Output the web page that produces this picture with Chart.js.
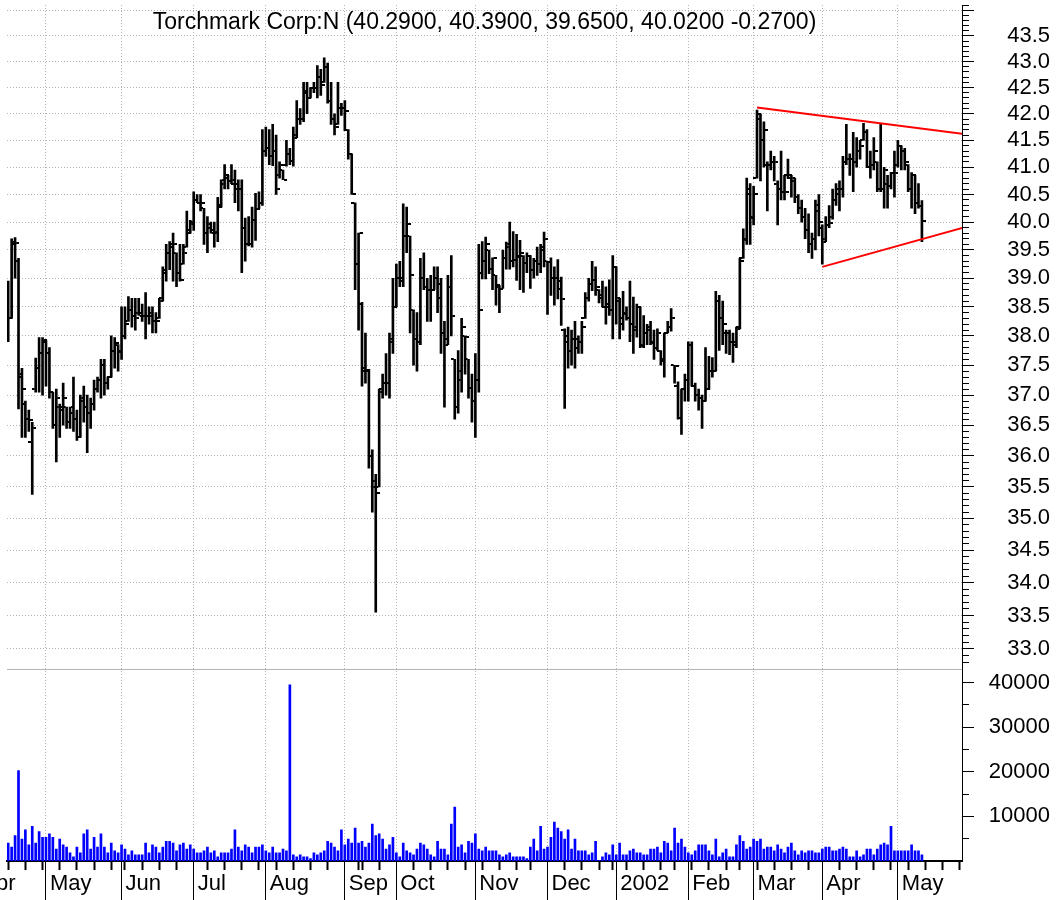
<!DOCTYPE html>
<html>
<head>
<meta charset="utf-8">
<script src="https://cdn.jsdelivr.net/npm/chart.js@4.4.1/dist/chart.umd.min.js"></script>
<style>
  html, body { margin: 0; padding: 0; background: #fff; }
  #wrap { width: 1061px; height: 900px; overflow: hidden; }
</style>
</head>
<body>
<div id="wrap"><canvas id="chart" width="1061" height="900"></canvas></div>
<script>
// Torchmark Corp (TMK) daily bars, 16 Apr 2001 - 10 May 2002
const firstBar = '2001-04-16';
const calendarStart = '2001-04-02';
const calendarEnd = '2002-06-28';
const holidays = ['2001-04-13','2001-05-28','2001-07-04','2001-09-03','2001-09-11','2001-09-12',
  '2001-09-13','2001-09-14','2001-11-22','2001-12-25','2002-01-01','2002-01-21','2002-02-18',
  '2002-03-29','2002-05-27'];
const monthNames = ['Jan','Feb','Mar','Apr','May','Jun','Jul','Aug','Sep','Oct','Nov','Dec'];

const opens = [
  38.70,38.30,39.60,39.30,37.30,36.85,36.60,36.22,37.10,37.45,
  37.70,37.90,37.70,37.05,36.50,36.80,36.75,36.80,36.55,36.70,
  36.60,36.30,36.90,36.80,36.70,36.85,37.10,37.25,37.50,37.20,
  37.30,37.75,37.85,37.75,38.00,38.25,38.45,38.35,38.40,38.40,
  38.35,38.35,38.40,38.25,38.30,38.65,39.10,39.45,39.55,39.45,
  39.10,39.25,39.55,39.85,40.00,40.40,40.35,40.25,39.80,39.90,
  39.85,39.80,40.30,40.70,40.80,40.75,40.70,40.60,40.60,39.90,
  39.60,39.60,40.03,40.24,40.35,41.30,41.35,41.20,41.30,40.85,
  40.95,41.05,41.25,41.12,41.60,41.90,41.90,42.40,42.30,42.50,
  42.50,42.70,42.60,42.90,42.25,41.90,41.80,42.10,42.10,41.70,
  41.25,40.35,39.25,38.55,37.45,37.40,36.00,35.60,35.50,37.10,
  37.20,37.20,37.90,38.50,39.00,38.95,39.75,39.75,38.45,37.95,
  37.90,39.00,38.85,38.80,38.80,39.00,38.65,38.05,37.95,38.85,
  37.60,36.80,37.25,38.00,37.60,37.12,36.90,37.25,39.10,39.30,
  39.50,39.16,39.05,38.85,38.82,39.36,39.55,39.30,39.33,39.40,
  39.40,39.27,39.40,39.15,39.30,39.25,39.55,39.30,39.28,39.00,
  39.00,38.95,38.10,37.90,37.75,37.95,37.80,37.90,38.30,38.65,
  38.90,38.97,38.80,38.65,38.50,38.50,38.45,39.20,38.60,38.30,
  38.40,38.30,38.20,38.10,38.50,37.85,38.05,38.15,37.90,37.80,
  37.75,37.60,38.05,38.15,37.50,37.15,36.62,37.10,37.25,37.85,
  37.15,37.00,36.95,36.90,37.10,37.40,37.40,38.60,38.30,38.05,
  38.05,37.90,37.90,38.15,39.35,39.70,40.50,40.10,40.80,41.90,
  41.50,41.05,41.05,41.10,40.70,40.60,40.55,40.85,40.80,40.75,
  40.45,40.25,40.10,39.85,39.60,39.70,40.20,39.90,39.70,39.95,
  40.10,40.40,40.50,40.60,41.10,41.15,41.15,41.10,41.30,41.50,
  41.65,41.00,41.05,41.10,40.60,40.60,40.70,40.65,40.90,41.05,
  41.40,41.30,41.05,40.60,40.85,40.35,40.29
];
const highs = [
  38.95,39.70,39.72,39.35,37.45,36.90,36.75,36.55,37.62,37.97,
  37.97,37.92,37.80,37.05,37.10,36.85,37.20,36.80,36.80,37.30,
  36.75,37.00,37.15,37.00,36.95,37.25,37.30,37.60,37.60,37.30,
  38.00,37.97,37.85,38.50,38.50,38.68,38.65,38.65,38.65,38.55,
  38.75,38.50,38.50,38.40,38.65,39.20,39.60,39.65,39.80,39.45,
  39.60,39.60,40.20,40.03,40.55,40.50,40.50,40.25,40.10,40.00,
  40.00,40.45,40.77,41.05,40.85,41.05,40.95,40.77,40.77,40.07,
  40.10,40.27,40.52,40.55,41.70,41.75,41.70,41.80,41.60,41.10,
  40.95,41.50,41.35,41.75,42.25,42.10,42.60,42.60,42.50,42.60,
  42.92,42.85,43.07,42.97,42.60,42.00,42.60,42.20,42.25,41.70,
  41.25,40.35,39.80,38.58,38.05,37.43,36.10,35.70,37.10,37.35,
  37.70,38.05,39.00,39.25,39.30,40.33,40.27,39.75,38.45,38.40,
  39.35,39.45,39.00,39.05,39.20,39.20,39.00,38.25,39.05,39.40,
  37.60,37.75,38.30,38.00,37.60,37.35,37.70,39.60,39.65,39.73,
  39.50,39.36,39.05,38.87,39.50,39.64,40.00,39.83,39.78,39.67,
  39.40,39.45,39.40,39.35,39.55,39.60,39.82,39.30,39.36,39.20,
  39.33,39.02,38.12,38.15,38.10,38.25,38.00,38.25,38.75,39.00,
  39.30,39.20,38.80,38.95,38.85,38.97,39.40,39.20,38.65,38.77,
  38.50,38.95,38.67,38.55,38.50,38.35,38.20,38.25,38.10,38.12,
  37.75,38.05,38.25,38.47,37.50,37.22,37.10,37.35,37.90,37.90,
  37.20,37.10,37.00,37.80,37.65,37.63,38.77,38.70,38.60,38.10,
  38.10,38.05,38.15,39.35,39.88,40.80,40.70,40.65,42.07,42.00,
  41.85,41.10,41.30,41.20,40.75,41.30,40.85,41.15,40.85,40.80,
  40.50,40.40,40.25,40.15,39.80,40.40,40.50,39.95,40.10,40.30,
  40.60,40.70,40.75,41.20,41.80,41.25,41.65,41.55,41.50,41.82,
  41.70,41.30,41.55,41.10,41.82,41.00,40.85,40.90,41.30,41.50,
  41.40,41.35,41.05,40.90,40.85,40.70,40.39
];
const lows = [
  37.90,38.30,39.00,36.77,36.30,36.30,36.40,35.38,37.05,37.05,
  37.00,37.15,36.95,36.45,35.90,36.30,36.50,36.45,36.45,36.40,
  36.25,36.30,36.55,36.05,36.45,36.75,37.05,36.95,37.00,37.10,
  37.30,37.45,37.40,37.60,37.95,38.25,38.15,38.10,38.35,38.25,
  37.95,38.20,38.05,38.05,38.30,38.60,38.95,39.15,38.95,38.85,
  38.95,39.25,39.55,39.80,39.85,40.35,40.20,39.60,39.45,39.80,
  39.55,39.65,40.27,40.60,40.60,40.70,40.35,40.20,39.10,39.30,
  39.57,39.55,39.67,40.24,40.30,41.20,41.05,41.03,40.50,40.80,
  40.77,41.02,41.05,41.02,41.55,41.80,41.85,42.00,42.30,42.40,
  42.30,42.35,42.60,42.20,41.80,41.60,41.80,41.97,41.68,41.15,
  40.50,38.80,38.10,37.15,37.20,35.80,35.10,33.55,35.50,36.95,
  37.00,36.95,37.70,38.50,38.85,38.85,39.45,38.05,37.50,37.40,
  37.85,38.80,38.25,38.25,38.80,38.40,37.70,36.80,37.85,38.00,
  36.60,36.70,37.05,37.35,36.95,36.55,36.30,37.05,38.99,38.99,
  39.08,38.80,38.53,38.40,38.82,39.16,39.16,39.20,38.96,38.80,
  38.75,39.10,38.82,39.00,39.05,39.10,39.20,38.37,38.70,38.53,
  38.64,38.18,36.78,37.45,37.50,37.45,37.70,37.70,38.30,38.60,
  38.78,38.70,38.57,38.50,38.20,38.35,37.95,38.20,37.95,38.10,
  38.27,37.90,37.70,37.98,37.80,37.80,37.85,37.85,37.60,37.75,
  37.50,37.30,38.05,38.08,37.20,36.60,36.35,36.90,36.90,37.15,
  36.90,36.75,36.45,36.90,37.10,37.30,37.40,37.75,37.85,37.70,
  37.68,37.55,37.80,38.12,39.35,39.60,39.60,39.95,40.80,40.75,
  41.00,40.20,40.95,40.75,39.95,40.40,40.40,40.80,40.45,40.35,
  40.15,40.00,39.70,39.45,39.35,39.50,39.75,39.25,39.65,39.90,
  40.05,40.30,40.20,40.45,41.05,40.85,40.55,41.00,41.15,41.50,
  41.00,40.80,40.95,40.55,40.55,40.25,40.25,40.60,40.45,41.00,
  40.95,40.95,40.55,40.25,40.15,40.25,39.65
];
const closes = [
  38.30,39.65,39.62,37.35,37.10,36.60,36.58,36.45,37.45,37.70,
  37.93,37.70,37.05,36.50,36.95,36.80,36.95,36.55,36.80,36.60,
  36.30,36.95,36.80,36.70,36.85,37.10,37.25,37.50,37.20,37.30,
  37.75,37.87,37.73,38.00,38.20,38.45,38.35,38.30,38.35,38.35,
  38.35,38.35,38.25,38.25,38.60,39.15,39.45,39.60,39.60,39.10,
  38.97,39.45,39.80,39.97,40.40,40.35,40.35,39.80,39.97,39.80,
  39.82,40.27,40.77,40.85,40.75,40.77,40.70,40.60,39.90,39.60,
  39.60,40.03,40.24,40.35,41.30,41.35,41.20,41.30,40.60,41.05,
  40.77,41.25,41.12,41.55,41.90,41.90,42.43,42.30,42.50,42.50,
  42.70,42.55,42.90,42.25,41.90,41.75,42.10,42.10,42.05,41.25,
  40.50,39.25,39.80,37.40,37.42,36.00,35.50,35.40,37.05,37.20,
  37.20,37.95,38.50,39.00,39.00,39.75,39.97,39.05,37.95,37.90,
  39.00,38.85,38.80,38.80,39.00,38.90,38.05,37.85,38.85,38.35,
  36.80,37.40,38.15,37.98,37.12,36.90,37.25,38.45,39.30,39.60,
  39.16,39.35,38.88,38.82,39.36,39.60,39.30,39.33,39.38,39.45,
  39.27,39.40,39.15,39.30,39.25,39.50,39.70,39.28,39.00,39.00,
  38.82,38.64,38.00,37.75,37.95,37.95,37.90,38.15,38.65,38.90,
  38.97,38.85,38.70,38.50,38.55,38.45,39.20,38.65,38.20,38.37,
  38.30,38.20,38.15,38.50,37.82,38.05,38.10,37.88,37.80,38.05,
  37.58,38.05,38.15,38.30,37.48,36.62,37.10,37.25,37.85,37.15,
  37.00,36.95,36.90,37.10,37.40,37.40,38.60,38.30,38.20,38.05,
  37.90,37.85,38.12,39.30,39.67,40.60,40.08,40.50,42.00,41.50,
  41.70,41.05,41.10,41.10,40.60,40.55,40.55,40.85,40.80,40.45,
  40.25,40.10,39.85,39.60,39.70,40.30,40.00,39.65,39.95,39.98,
  40.40,40.60,40.60,41.10,41.15,41.15,41.10,41.30,41.40,41.65,
  41.00,41.05,41.30,40.60,40.60,40.95,40.65,40.90,40.90,41.40,
  41.30,41.10,40.60,40.85,40.35,40.29,40.02
];
const volumes = [
  4000,3100,5700,20300,4900,7000,3600,7800,4000,6600,
  5300,5300,6100,5300,2700,4900,3600,3100,1850,960,
  3100,1850,6100,7000,2700,5300,3100,6100,3100,1850,
  4000,2300,1850,3600,2700,1400,2300,1400,1400,1400,
  4000,1850,3600,3100,1850,3100,4400,4400,4000,2300,
  3600,4000,2700,3600,2700,1850,1850,2300,3100,1850,
  2300,960,1850,1850,1850,2700,7000,3100,2300,3600,
  3100,1850,3100,3100,3600,2300,1850,3100,1850,1850,
  2700,2300,39500,1400,960,1400,960,960,520,1850,
  1400,1850,2300,4400,4000,3100,2300,7000,3600,4900,
  4000,7400,4000,4400,3100,4000,8300,5700,6100,4900,
  2700,3600,5300,1850,960,4000,2300,1850,1400,2700,
  4000,3600,2700,1400,960,4400,2700,2700,1400,8300,
  12100,3100,3600,1850,4400,4000,6100,2700,2300,3100,
  2300,2300,2300,1400,960,1400,1850,960,960,960,
  960,520,3100,4900,2300,7800,2700,3100,5300,8700,
  7400,6600,4900,7000,2700,4900,2300,2300,2300,1400,
  1850,4400,150,960,1850,1400,3600,1400,4000,1400,
  1400,2300,2700,1850,1850,1400,1400,2700,2700,3100,
  1850,4400,4000,2300,7400,4000,4900,3100,1850,1400,
  2300,3600,3600,3600,2300,1400,4900,960,1850,2700,
  960,960,3600,5700,4400,2700,3100,4900,4400,4900,
  2700,3100,3100,2300,3600,2700,1850,3100,4000,2300,
  1400,2300,1850,2300,2300,1850,1850,2700,3100,3100,
  2300,2300,2700,3100,2700,960,960,2300,960,1400,
  2700,2700,1400,2700,3600,4000,3600,7800,2300,2300,
  2300,2300,2300,3600,2300,2300,1400
];

// trend lines: [bar index, price]
const upperTrend = [{x: 218, y: 42.12}, {x: 278, y: 41.62}];
const lowerTrend = [{x: 237, y: 39.20}, {x: 278, y: 39.90}];

const priceMin = 32.70, priceMax = 44.11;
const volMax = 43000;
const xMin = -0.35, xMax = 277.67;

// trading calendar
function tradingDays(from, to) {
  const out = [];
  const d = new Date(from + 'T00:00:00Z');
  const end = new Date(to + 'T00:00:00Z');
  while (d <= end) {
    const s = d.toISOString().slice(0, 10);
    const wd = d.getUTCDay();
    if (wd !== 0 && wd !== 6 && holidays.indexOf(s) < 0) out.push(s);
    d.setUTCDate(d.getUTCDate() + 1);
  }
  return out;
}
const days = tradingDays(calendarStart, calendarEnd);
const offset = days.indexOf(firstBar);

const xTicks = [];
const xLabels = {};
const monthTick = {};
days.forEach((s, k) => {
  const i = k - offset;
  if (i > xMax) return;
  const prev = days[k - 1];
  const cur = new Date(s + 'T00:00:00Z');
  let newMonth = !prev || prev.slice(0, 7) !== s.slice(0, 7);
  let newWeek = true;
  if (prev) {
    const p = new Date(prev + 'T00:00:00Z');
    newWeek = cur.getUTCDay() <= p.getUTCDay() || (cur - p) >= 7 * 864e5;
  }
  if (newMonth) {
    const m = cur.getUTCMonth();
    xLabels[i] = m === 0 ? String(cur.getUTCFullYear()) : monthNames[m];
    monthTick[i] = true;
    xTicks.push(i);
  } else if (newWeek) {
    xTicks.push(i);
  }
});

const priceTicks = [];
for (let t = 328; t <= 441; t++) priceTicks.push(t / 10);
const volTicks = [5000, 10000, 15000, 20000, 25000, 30000, 35000, 40000, volMax];

function tickImage(side) {
  const c = document.createElement('canvas');
  c.width = 8; c.height = 2;
  const g = c.getContext('2d');
  g.fillStyle = '#000';
  g.fillRect(side === 'left' ? 0 : 5, 0, 3, 2);
  return c;
}

const bars = opens.map((o, i) => ({x: i, y: [lows[i], highs[i]]}));
const openPts = opens.map((o, i) => ({x: i, y: o}));
const closePts = closes.map((c, i) => ({x: i, y: c}));
const volPts = volumes.map((v, i) => ({x: i, y: v}));

const last = opens.length - 1;
const titleText = 'Torchmark Corp:N (' + [opens[last], highs[last], lows[last], closes[last]]
  .map(v => v.toFixed(4)).join(', ') + ' ' + (closes[last] - closes[last - 1]).toFixed(4) + ')';

Chart.defaults.font.family = '"Liberation Sans", Arial, sans-serif';
Chart.defaults.color = '#000';

const gridGray = '#b4b4b4';
const isMajor = v => Math.round(v * 10) % 5 === 0;
const fitRight = s => { s.width = 88; s.paddingTop = 0; s.paddingBottom = 0; };

new Chart(document.getElementById('chart'), {
  type: 'bar',
  data: {
    datasets: [
      { type: 'line', data: upperTrend, yAxisID: 'y', borderColor: '#ff0000', borderWidth: 2, pointRadius: 0 },
      { type: 'line', data: lowerTrend, yAxisID: 'y', borderColor: '#ff0000', borderWidth: 2, pointRadius: 0 },
      { type: 'scatter', data: openPts, yAxisID: 'y', pointStyle: tickImage('left'), pointRadius: 3 },
      { type: 'scatter', data: closePts, yAxisID: 'y', pointStyle: tickImage('right'), pointRadius: 3 },
      { type: 'bar', data: bars, yAxisID: 'y', backgroundColor: '#000', barThickness: 2, grouped: false },
      { type: 'bar', data: volPts, yAxisID: 'yv', backgroundColor: '#0000ff', barThickness: 2, grouped: false }
    ]
  },
  options: {
    responsive: false,
    animation: false,
    events: [],
    layout: { padding: { left: 7, right: 11, top: 0, bottom: 0 } },
    plugins: {
      legend: { display: false },
      tooltip: { enabled: false },
      title: {
        display: true,
        text: titleText,
        fullSize: false,
        color: '#000',
        font: { size: 23, weight: 'normal' },
        padding: { top: 8, bottom: -31.6 }
      }
    },
    scales: {
      x: {
        type: 'linear',
        min: xMin,
        max: xMax,
        bounds: 'data',
        offset: false,
        afterBuildTicks: s => { s.ticks = xTicks.map(v => ({value: v})); },
        afterFit: s => { s.height = 39; s.paddingLeft = 0; s.paddingRight = 0; },
        ticks: {
          autoSkip: false,
          maxRotation: 0,
          align: 'start',
          labelOffset: 4,
          padding: -30,
          font: { size: 22 },
          callback: v => xLabels[v] || ''
        },
        grid: {
          offset: false,
          color: c => (c.tick && monthTick[c.tick.value]) ? gridGray : 'rgba(0,0,0,0)',
          tickLength: 40,
          tickColor: '#000',
          tickWidth: c => (c.tick && monthTick[c.tick.value]) ? 1 : 2,
          tickBorderDash: c => (c.tick && monthTick[c.tick.value]) ? [] : [8, 100]
        },
        border: { color: '#000', width: 2, dash: [1, 2] }
      },
      y: {
        type: 'logarithmic',
        position: 'right',
        stack: 'panels',
        stackWeight: 665,
        min: priceMin,
        max: priceMax,
        bounds: 'data',
        afterBuildTicks: s => { s.ticks = priceTicks.map(v => ({value: v})); },
        afterFit: fitRight,
        ticks: {
          autoSkip: false,
          crossAlign: 'far',
          padding: 20,
          font: { size: 22 },
          callback: v => {
            const t = Math.round(v * 10);
            return (t % 5 === 0 && t >= 330 && t <= 435) ? (t / 10).toFixed(1) : '';
          }
        },
        grid: {
          color: c => (c.tick && isMajor(c.tick.value)) ? gridGray : 'rgba(0,0,0,0)',
          tickLength: 12,
          tickColor: '#000',
          tickBorderDash: c => (c.tick && isMajor(c.tick.value)) ? [] : [6, 40]
        },
        border: { color: '#000', width: 1, dash: [1, 2] }
      },
      yv: {
        type: 'linear',
        position: 'right',
        stack: 'panels',
        stackWeight: 192,
        min: 0,
        max: volMax,
        bounds: 'data',
        afterBuildTicks: s => { s.ticks = volTicks.map(v => ({value: v})); },
        afterFit: fitRight,
        ticks: {
          autoSkip: false,
          crossAlign: 'far',
          padding: 10,
          font: { size: 22 },
          callback: v => (v % 10000 === 0 ? String(v) : '')
        },
        grid: {
          color: c => (c.tick && c.tick.value === volMax) ? gridGray : 'rgba(0,0,0,0)',
          tickLength: 12,
          tickColor: c => (c.tick && c.tick.value === volMax) ? 'rgba(0,0,0,0)' : '#000',
          tickBorderDash: c => (c.tick && c.tick.value % 10000 === 0) ? [] : [6, 40]
        },
        border: { color: '#000', width: 1, dash: [] }
      }
    }
  }
});
</script>
</body>
</html>
